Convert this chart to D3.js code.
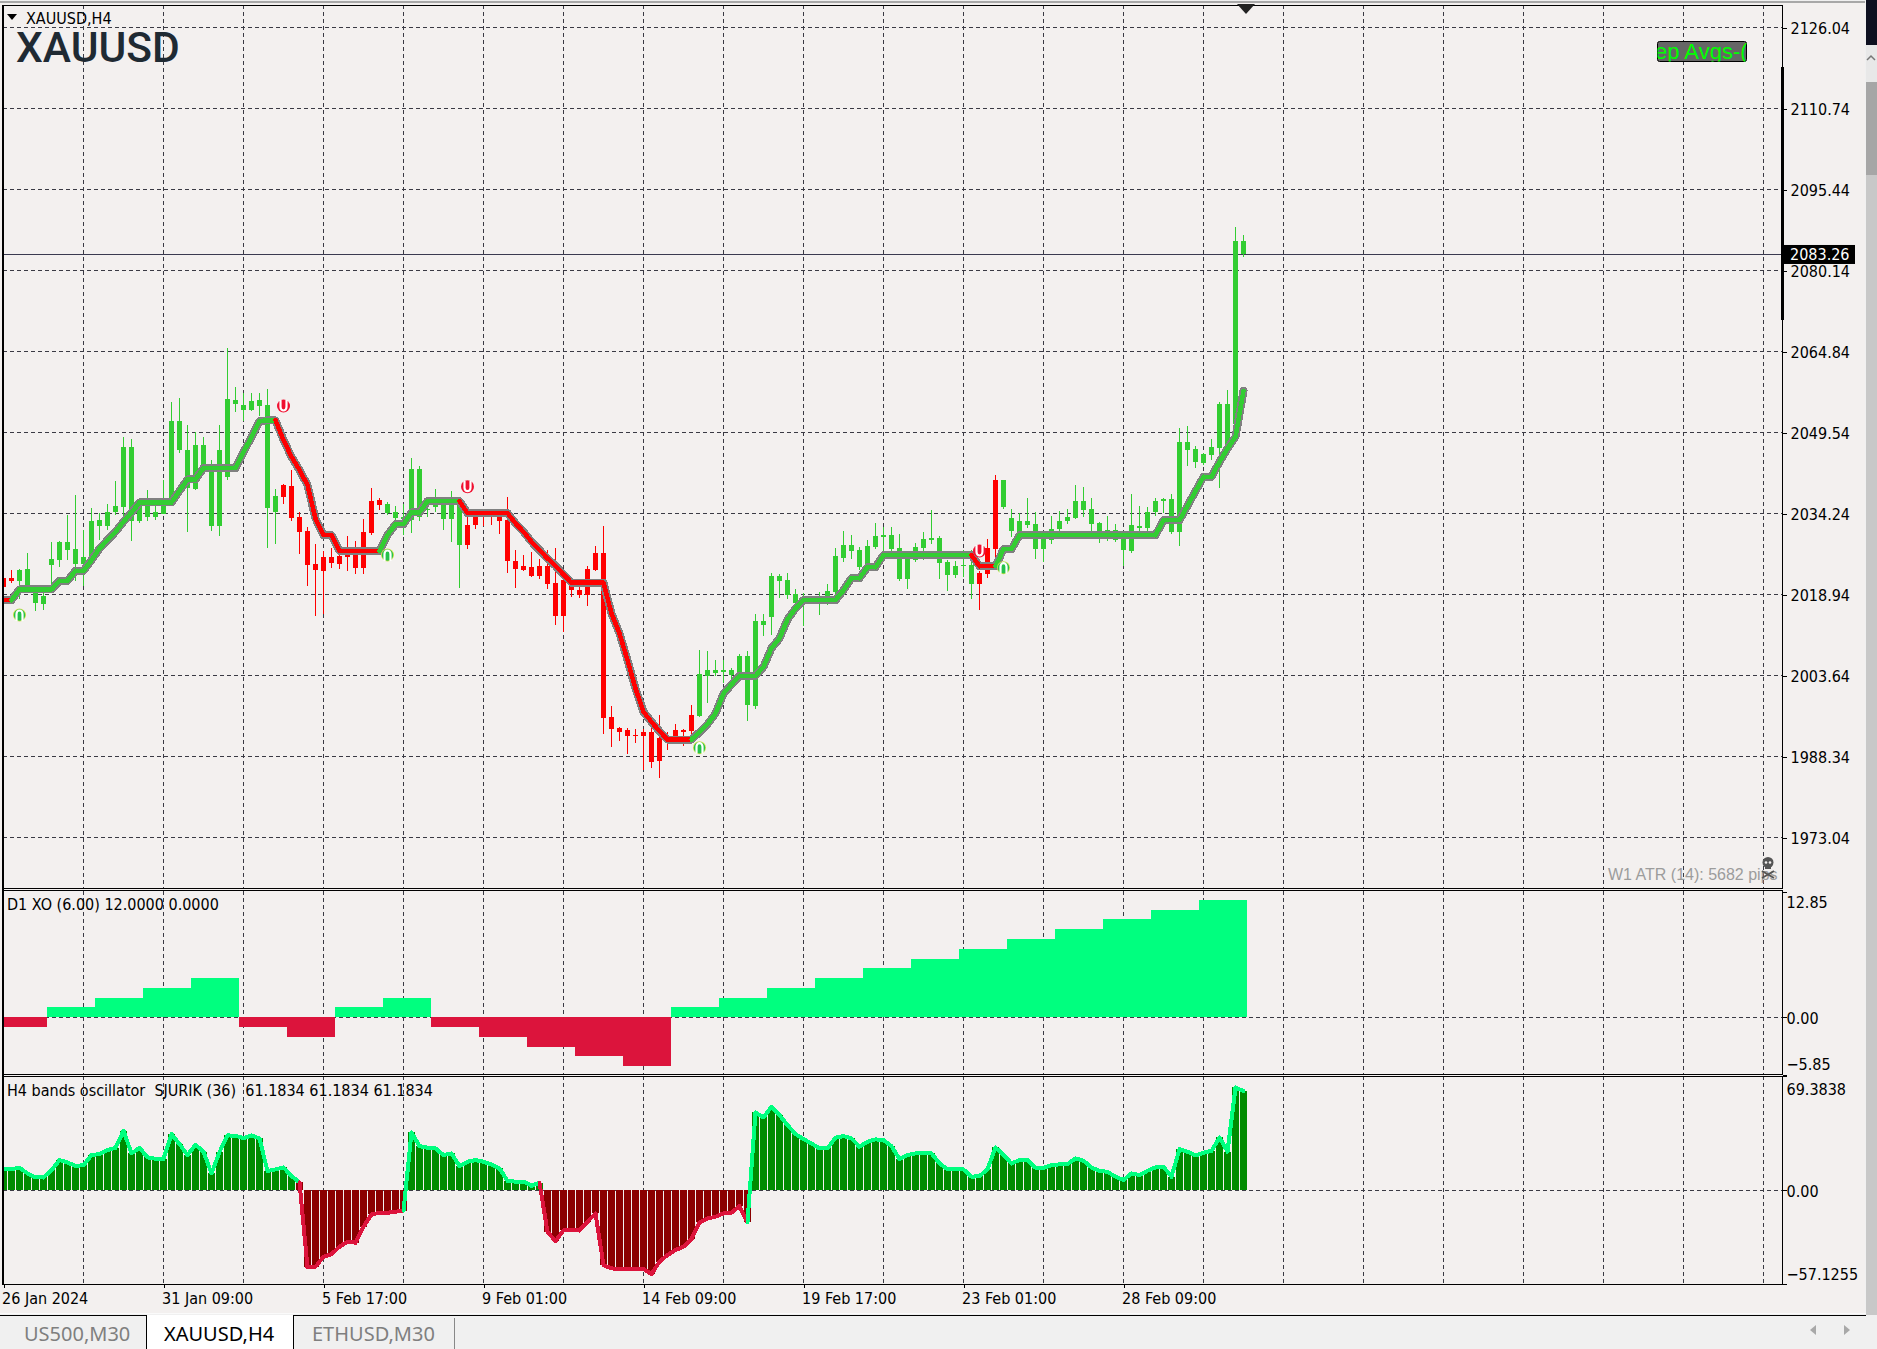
<!DOCTYPE html>
<html><head><meta charset="utf-8">
<script src="https://cdn.jsdelivr.net/npm/d3@7/dist/d3.min.js"></script>
<style>
html,body{margin:0;padding:0;background:#f0f0f0;overflow:hidden}
svg{display:block}
text{font-family:"DejaVu Sans Condensed","DejaVu Sans",sans-serif;font-size:16px;fill:#000}
.tab{font-family:"Noto Sans",sans-serif;font-size:20px}
</style></head><body>
<svg id="chart" width="1877" height="1349"></svg>
<script>
const symbol = "XAUUSD";
const panelTitle = "XAUUSD,H4";
const d1Title = "D1 XO (6.00) 12.0000 0.0000";
const oscTitle = "H4 bands oscillator  SJURIK (36)  61.1834 61.1834 61.1834";
const atrText = "W1 ATR (14): 5682 pips";
const buttonText = "ep Avgs-(";
const tabNames = ["US500,M30","XAUUSD,H4","ETHUSD,M30"];
const currentPrice = 2083.26;
const priceTicks = [2126.04,2110.74,2095.44,2080.14,2064.84,2049.54,2034.24,2018.94,2003.64,1988.34,1973.04];
const d1Ticks = [12.85,0,-5.85];
const oscTicks = [69.3838,0,-57.1255];
const dateLabels = ["26 Jan 2024","31 Jan 09:00","5 Feb 17:00","9 Feb 01:00","14 Feb 09:00","19 Feb 17:00","23 Feb 01:00","28 Feb 09:00"];

const highs = [2024.30,2023.54,2023.85,2026.69,2019.89,2019.13,2028.77,2029.02,2033.93,2037.65,
2031.10,2035.19,2034.25,2036.01,2040.36,2048.61,2048.24,2037.02,2038.66,2035.64,
2040.55,2055.29,2056.05,2050.88,2049.62,2048.61,2044.33,2050.88,2065.50,2058.06,
2056.93,2056.93,2056.93,2057.75,2038.85,2039.79,2042.44,2034.50,2031.67,2028.45,
2027.13,2027.70,2027.00,2029.97,2029.02,2033.18,2039.04,2037.15,2036.39,2035.64,
2036.01,2044.71,2043.20,2036.46,2038.86,2036.78,2038.54,2036.78,2035.39,2034.89,
2034.89,2034.89,2035.02,2037.35,2027.33,2026.38,2026.95,2025.63,2027.33,2027.71,
2022.60,2021.66,2020.53,2024.31,2028.09,2031.87,1997.85,1993.88,1993.69,1993.50,
1993.50,1993.69,1996.14,1992.93,1994.44,1993.62,1998.03,2008.43,2008.24,2006.54,
2006.54,2005.03,2007.67,2008.24,2015.23,2015.23,2022.98,2022.79,2022.98,2019.96,
2019.14,2018.51,2019.39,2020.90,2027.71,2030.90,2030.14,2027.88,2029.20,2032.41,
2031.66,2031.66,2030.33,2027.12,2028.63,2030.71,2034.87,2029.96,2025.42,2025.23,
2027.31,2027.31,2023.34,2029.39,2041.48,2040.54,2035.06,2034.30,2037.14,2034.49,
2030.14,2033.74,2034.68,2035.06,2039.59,2039.22,2037.14,2032.60,2033.74,2032.22,
2030.14,2037.89,2035.63,2035.44,2037.14,2037.14,2037.89,2050.37,2050.75,2046.97,
2045.58,2048.29,2055.28,2057.55,2088.36,2086.84];

const bodyTops = [2022.09,2022.09,2023.54,2023.73,2019.26,2018.63,2025.56,2028.77,2028.77,2027.45,
2025.93,2032.80,2032.99,2034.50,2035.64,2046.79,2046.79,2036.90,2036.90,2034.50,
2036.90,2051.70,2051.70,2046.22,2047.16,2047.16,2043.57,2046.22,2055.86,2055.67,
2054.72,2055.48,2055.67,2054.72,2037.53,2039.60,2039.42,2033.56,2030.91,2024.67,
2026.00,2026.00,2026.19,2026.57,2027.32,2030.72,2036.58,2036.77,2036.01,2034.50,
2033.49,2042.63,2042.63,2035.14,2035.96,2035.96,2035.96,2035.96,2032.05,2033.76,
2034.26,2034.26,2033.76,2033.00,2025.25,2024.31,2024.12,2024.31,2024.31,2021.09,
2021.66,2020.53,2019.77,2023.74,2026.76,2026.76,1995.77,1993.69,1993.31,1992.36,
1992.93,1992.93,1991.80,1992.18,1993.31,1993.31,1996.14,2003.90,2004.65,2004.65,
2004.65,2004.65,2007.30,2007.30,2013.91,2013.91,2022.42,2022.42,2021.66,2019.01,
2018.13,2018.13,2018.13,2019.58,2026.20,2028.25,2028.25,2027.31,2028.07,2029.96,
2030.14,2030.14,2027.69,2026.36,2027.88,2029.39,2029.58,2029.58,2025.04,2024.29,
2024.48,2024.48,2022.96,2027.69,2040.54,2040.54,2033.36,2032.79,2032.79,2032.22,
2029.39,2031.28,2032.79,2033.55,2036.57,2036.57,2035.06,2032.41,2031.09,2031.09,
2029.39,2032.03,2031.85,2034.49,2036.57,2036.95,2036.95,2047.72,2047.72,2046.40,
2045.45,2046.78,2054.90,2054.90,2085.71,2085.71];

const bodyBottoms = [2020.39,2021.46,2021.46,2020.07,2017.37,2017.11,2024.42,2025.43,2027.32,2024.67,
2024.61,2025.74,2031.86,2031.86,2034.50,2035.45,2032.80,2032.80,2033.56,2033.56,
2034.12,2036.90,2046.22,2039.04,2038.85,2043.38,2031.86,2031.86,2041.12,2054.91,
2053.78,2053.78,2054.54,2035.26,2034.50,2037.34,2033.37,2030.72,2024.48,2023.54,
2023.35,2024.86,2024.67,2026.00,2023.92,2023.92,2030.53,2035.82,2034.25,2033.37,
2033.18,2032.99,2033.62,2034.89,2035.52,2033.19,2033.19,2028.27,2028.27,2032.05,
2034.01,2034.01,2032.81,2025.25,2023.74,2023.55,2022.42,2022.42,2020.90,2014.86,
2014.86,2019.77,2018.82,2018.82,2023.55,1995.64,1993.50,1992.93,1992.18,1992.18,
1992.18,1987.26,1987.45,1991.92,1992.18,1992.93,1993.12,1995.96,2003.52,2004.02,
2004.33,2003.64,2003.52,1998.03,1997.85,2013.15,2014.67,2021.47,2018.82,2017.31,
2017.88,2017.88,2017.88,2018.45,2019.39,2025.92,2027.12,2024.10,2024.16,2027.88,
2029.77,2027.50,2021.83,2021.83,2025.42,2027.69,2029.20,2024.85,2022.58,2022.58,
2024.29,2020.88,2020.88,2022.77,2027.50,2035.44,2030.90,2030.71,2032.03,2027.50,
2027.50,2029.20,2031.28,2032.79,2033.36,2034.87,2032.22,2030.14,2030.14,2029.20,
2027.31,2027.12,2031.53,2031.47,2034.49,2036.57,2030.71,2030.71,2046.21,2043.94,
2043.75,2045.26,2046.59,2046.84,2051.12,2083.26];

const lows = [2019.13,2021.02,2018.18,2019.13,2015.79,2015.98,2019.89,2024.17,2025.43,2021.52,
2020.52,2024.80,2029.21,2031.10,2033.93,2031.41,2029.02,2032.36,2032.80,2032.99,
2034.12,2036.45,2045.72,2030.72,2038.66,2043.07,2030.97,2029.97,2040.55,2053.40,
2051.70,2053.65,2052.65,2027.70,2028.45,2036.01,2032.80,2026.57,2020.52,2014.85,
2015.22,2023.92,2023.67,2023.35,2022.78,2022.78,2030.15,2034.88,2033.93,2032.99,
2030.15,2030.53,2032.90,2033.63,2034.57,2031.11,2028.90,2020.15,2027.52,2031.30,
2031.87,2032.05,2030.35,2022.98,2020.15,2023.36,2022.23,2021.85,2019.96,2013.15,
2011.83,2018.45,2018.26,2016.75,2023.36,1992.55,1990.10,1991.23,1988.77,1990.85,
1985.75,1986.13,1984.24,1989.53,1991.73,1990.29,1991.42,1995.77,1998.41,2003.52,
2002.13,2002.44,2003.39,1995.01,1997.28,2011.08,2011.26,2018.26,2018.07,2016.30,
2013.03,2017.75,2015.04,2016.93,2018.82,2025.17,2025.61,2023.53,2023.84,2027.62,
2026.68,2026.68,2021.45,2019.94,2025.04,2025.42,2028.44,2021.83,2019.56,2022.02,
2022.27,2018.05,2015.97,2022.02,2025.42,2035.06,2029.77,2030.33,2031.47,2025.61,
2025.04,2028.44,2030.71,2032.22,2033.17,2033.55,2030.14,2028.63,2029.01,2028.82,
2024.29,2026.74,2030.14,2030.14,2033.74,2034.24,2030.33,2028.07,2043.19,2042.81,
2043.37,2044.32,2039.03,2046.21,2049.36,2082.69];

const trendLine = [2017.87,2017.87,2019.89,2019.89,2019.89,2019.89,2019.89,2021.52,2021.52,2023.41,
2023.41,2025.43,2027.63,2029.21,2030.78,2032.67,2034.44,2036.33,2036.33,2036.33,
2036.33,2036.33,2038.53,2040.68,2040.68,2042.82,2042.82,2042.82,2042.82,2042.82,
2045.78,2048.74,2051.70,2051.83,2051.83,2048.11,2044.96,2042.44,2039.60,2033.30,
2030.15,2030.15,2027.19,2027.19,2027.19,2027.19,2027.19,2027.19,2030.15,2032.23,
2032.23,2034.44,2034.44,2036.59,2036.59,2036.59,2036.59,2036.59,2034.32,2034.32,
2034.32,2034.32,2034.32,2034.32,2032.37,2030.79,2028.90,2027.33,2025.75,2024.37,
2022.73,2021.16,2021.16,2021.16,2021.16,2021.16,2015.36,2011.58,2006.54,2001.18,
1996.77,1994.88,1993.12,1991.55,1991.55,1991.55,1991.55,1992.93,1994.44,1996.46,
2000.24,2001.94,2003.58,2003.58,2003.58,2005.28,2008.81,2010.63,2014.23,2016.30,
2017.88,2017.88,2017.88,2017.88,2017.88,2019.75,2022.02,2022.02,2024.10,2024.10,
2026.36,2026.36,2026.36,2026.36,2026.36,2026.36,2026.36,2026.36,2026.36,2026.36,
2026.36,2026.36,2024.29,2024.29,2024.29,2027.50,2027.50,2030.14,2030.14,2030.14,
2030.14,2030.14,2030.14,2030.14,2030.14,2030.14,2030.14,2030.14,2030.14,2030.14,
2030.14,2030.14,2030.14,2030.14,2030.14,2032.98,2032.98,2032.98,2035.69,2038.46,
2041.17,2041.17,2044.00,2046.52,2048.73,2057.42];

const redRuns = [[0,1],[35,47],[58,86],[122,124]];

const signalBars = [2,35,48,58,87,122,125];
const signalPrices = [2015.07,2054.55,2026.40,2039.30,1990.00,2027.16,2024.00];
const signalKinds = ["up","down","up","down","up","down","up"];

const d1Values = [-1,1,2,3,4,-1,-2,1,2,-1,-2,-3,-4,-5,1,2,3,4,5,6,7,8,9,10,11,12];
const barsPerDay = 6;

const oscValues = [12.77,12.77,13.58,10.14,7.70,7.70,12.16,18.24,16.83,14.60,
15.20,21.29,21.90,24.33,25.75,36.09,22.30,25.75,19.87,19.06,
19.06,34.06,27.98,21.29,27.57,23.32,10.14,23.11,33.25,33.05,
31.63,33.25,31.43,11.56,12.57,13.79,8.52,4.66,-47.04,-46.63,
-40.55,-38.93,-34.47,-31.42,-32.03,-22.30,-14.80,-13.79,-13.79,-13.18,
-12.57,35.07,26.76,25.75,25.34,21.29,22.30,14.60,17.23,18.25,
17.23,15.61,13.18,5.68,5.07,5.07,2.64,4.46,-25.34,-31.02,
-24.53,-24.53,-24.53,-19.26,-14.19,-45.62,-47.64,-48.05,-48.05,-48.05,
-48.05,-51.09,-43.59,-39.53,-36.49,-34.47,-29.80,-19.67,-17.23,-16.22,
-14.19,-13.79,-9.73,-19.46,47.24,44.20,50.68,45.62,39.53,34.06,
31.02,28.38,25.34,25.34,31.83,32.84,31.42,26.35,29.40,30.82,
30.41,26.76,18.85,21.29,22.30,22.30,22.30,16.22,12.57,12.57,
12.57,8.11,8.51,12.57,25.95,21.29,16.22,18.25,18.25,13.58,
13.58,15.20,15.61,15.81,19.26,17.84,13.79,11.56,11.15,8.11,
6.08,10.14,9.12,11.76,13.79,14.19,8.11,24.94,23.32,21.08,
22.71,23.92,32.03,23.32,62.44,60.20];
const oscFlippedBars = [37];

[highs,bodyTops,bodyBottoms,lows,trendLine,oscValues].forEach(a=>{ if(a.length!==156) throw new Error("length "+a.length); });

const W=1877,H=1349, paneR=1782.5;
const barStep=8, firstX=3.5, barCount=highs.length;
const x = d3.scaleLinear().domain([0,barCount-1]).range([firstX,firstX+barStep*(barCount-1)]);
const yMain = d3.scaleLinear().domain([2126.04,1973.04]).range([27.5,837.5]);
const yD1 = d3.scaleLinear().domain([12.85,-5.85]).range([891.5,1074.5]);
const yOsc = d3.scaleLinear().domain([69.3838,-57.1255]).range([1076,1284]);
const panes = [[5,888.5],[890.5,1074],[1076,1284]];
const isRed = i => redRuns.some(r=>i>=r[0]&&i<=r[1]);
const GREEN="#32cd32", RED="#ff0000";

const svg = d3.select("#chart");
const defs = svg.append("defs");
panes.forEach((p,k)=>defs.append("clipPath").attr("id","pane"+k).append("rect").attr("x",3).attr("y",p[0]).attr("width",paneR-3).attr("height",p[1]-p[0]));
defs.append("clipPath").attr("id","btn").append("rect").attr("x",1657.5).attr("y",41.5).attr("width",89).attr("height",20);

// window background
svg.append("rect").attr("width",W).attr("height",H).attr("fill","#f0f0f0");
svg.append("rect").attr("x",0).attr("y",3).attr("width",1865).attr("height",1310).attr("fill","#f3f0ef");
svg.append("rect").attr("x",0).attr("y",1).attr("width",1865).attr("height",2).attr("fill","#a8a8a8");
// scrollbar column
svg.append("rect").attr("x",1866).attr("y",0).attr("width",11).attr("height",H).attr("fill","#c8c8c8");
svg.append("rect").attr("x",1866).attr("y",0).attr("width",11).attr("height",45).attr("fill","#0e1020");
svg.append("rect").attr("x",1866).attr("y",45).attr("width",11).attr("height",37).attr("fill","#e8e8e8");
svg.append("rect").attr("x",1866).attr("y",82).attr("width",11).attr("height",93).attr("fill","#a6a6a6");
svg.append("path").attr("d","M1867 60 L1871 56 L1875 60").attr("fill","none").attr("stroke","#777").attr("stroke-width",1.5);

// grid
const gridG = svg.append("g").attr("stroke","#3a3a44").attr("stroke-width",1).attr("stroke-dasharray","4,3").attr("shape-rendering","crispEdges");
const gridXs = d3.range(10,231,10).map(i=>x(i)).filter(v=>v<paneR-2);
panes.forEach(p=>{
  gridG.append("g").selectAll("line").data(gridXs).join("line")
    .attr("x1",d=>d).attr("x2",d=>d).attr("y1",p[0]).attr("y2",p[1]);
});
gridG.append("g").selectAll("line").data(priceTicks).join("line")
  .attr("x1",3).attr("x2",paneR).attr("y1",d=>yMain(d)).attr("y2",d=>yMain(d));
gridG.append("line").attr("x1",3).attr("x2",paneR).attr("y1",yD1(0)).attr("y2",yD1(0));
gridG.append("line").attr("x1",3).attr("x2",paneR).attr("y1",yOsc(0)).attr("y2",yOsc(0));

// current price line
svg.append("line").attr("x1",3).attr("x2",paneR).attr("y1",Math.round(yMain(currentPrice))+.5).attr("y2",Math.round(yMain(currentPrice))+.5)
  .attr("stroke","#3a3a50").attr("stroke-width",1).attr("shape-rendering","crispEdges");

// candles
const main = svg.append("g").attr("clip-path","url(#pane0)");
const idx = d3.range(barCount);
main.append("g").selectAll("rect").data(idx).join("rect")
  .attr("x",i=>x(i)-.5).attr("width",1)
  .attr("y",i=>Math.round(yMain(highs[i]))).attr("height",i=>Math.round(yMain(lows[i]))-Math.round(yMain(highs[i])))
  .attr("fill",i=>isRed(i)?RED:GREEN).attr("shape-rendering","crispEdges");
main.append("g").selectAll("rect").data(idx).join("rect")
  .attr("x",i=>x(i)-2.5).attr("width",5)
  .attr("y",i=>Math.round(yMain(bodyTops[i]))).attr("height",i=>Math.max(1,Math.round(yMain(bodyBottoms[i]))-Math.round(yMain(bodyTops[i]))))
  .attr("fill",i=>isRed(i)?RED:GREEN).attr("shape-rendering","crispEdges");

// trend line
const mainLine = d3.line().x(i=>x(i)).y(i=>yMain(trendLine[i]));
main.append("path").attr("d",mainLine(idx)).attr("fill","none").attr("stroke","#808080").attr("stroke-width",8)
  .attr("stroke-linejoin","round").attr("stroke-linecap","round").attr("shape-rendering","crispEdges");
main.append("g").selectAll("path").data(idx.slice(0,-1)).join("path")
  .attr("d",i=>mainLine([i,i+1])).attr("fill","none").attr("stroke-width",4.5).attr("stroke-linecap","round")
  .attr("shape-rendering","crispEdges").attr("stroke",i=>isRed(i+1)?RED:GREEN);

// signal markers
signalBars.forEach((b,k)=>{
  const g = main.append("g").attr("transform",`translate(${x(b)},${yMain(signalPrices[k])})`);
  const up = signalKinds[k]==="up", c = up?"#25c24a":"#f01030";
  if(up) g.append("circle").attr("r",6.5).attr("fill","#cfe04a");
  g.append("circle").attr("r",up?5.7:6.5).attr("fill",c);
  g.append("path").attr("d",up?"M-3 6 V-1 A3 3.5 0 0 1 3 -1 V6":"M-3 -6 V1 A3 3.5 0 0 0 3 1 V-6")
    .attr("fill","none").attr("stroke","#fff").attr("stroke-width",2.2);
});

// D1 histogram
const sub1 = svg.append("g").attr("clip-path","url(#pane1)");
sub1.selectAll("rect").data(d1Values).join("rect")
  .attr("x",(d,k)=>x(k*barsPerDay)-4.5).attr("width",barStep*barsPerDay)
  .attr("y",d=>d>0?Math.round(yD1(d)):Math.round(yD1(0)))
  .attr("height",d=>Math.abs(Math.round(yD1(d))-Math.round(yD1(0))))
  .attr("fill",d=>d>0?"#00ff7f":"#dc143c").attr("shape-rendering","crispEdges");

// oscillator histogram
const sub2 = svg.append("g").attr("clip-path","url(#pane2)");
sub2.append("g").selectAll("rect").data(oscValues).join("rect")
  .attr("x",(d,i)=>x(i)-3.5).attr("width",7)
  .attr("y",d=>d>0?yOsc(d):yOsc(0)).attr("height",d=>Math.abs(yOsc(d)-yOsc(0)))
  .attr("fill",(d,i)=>(d>0)!==oscFlippedBars.includes(i)?"#008b00":"#8b0000").attr("shape-rendering","crispEdges");
const oscLine = d3.line().x(i=>x(i)).y(i=>yOsc(oscValues[i]));
sub2.append("g").selectAll("path").data(idx.slice(0,-1)).join("path")
  .attr("d",i=>oscLine([i,i+1])).attr("fill","none").attr("stroke-width",4).attr("stroke-linecap","round")
  .attr("shape-rendering","crispEdges").attr("stroke",i=>oscValues[i+1]>0?"#00ff7f":"#dc143c");

// pane frames
const frame = svg.append("g").attr("fill","none").attr("stroke","#000").attr("shape-rendering","crispEdges");
panes.forEach(p=>frame.append("rect").attr("x",2.5).attr("y",p[0]).attr("width",paneR-2.5).attr("height",p[1]-p[0]));
svg.append("rect").attr("x",2).attr("y",5).attr("width",2).attr("height",1279).attr("fill","#000");

// axes
function axisStyle(g){ g.attr("font-family",null).attr("font-size",null); g.select(".domain").remove(); g.selectAll("line").attr("stroke","#000").attr("shape-rendering","crispEdges"); g.selectAll("text").attr("fill","#000"); }
svg.append("g").attr("transform",`translate(${paneR},0)`)
  .call(d3.axisRight(yMain).tickValues(priceTicks).tickSize(4).tickPadding(4).tickFormat(d3.format(".2f")))
  .call(axisStyle).call(g=>g.selectAll("text").attr("y",1));
svg.append("g").attr("transform",`translate(${paneR},0)`)
  .call(d3.axisRight(yD1).tickValues(d1Ticks).tickSize(4).tickPadding(0).tickFormat(d3.format(".2f")))
  .call(axisStyle)
  .call(g=>g.selectAll("text").attr("y",d=>d===12.85?11:d===-5.85?-10:1.5));
svg.append("g").attr("transform",`translate(${paneR},0)`)
  .call(d3.axisRight(yOsc).tickValues(oscTicks).tickSize(4).tickPadding(0).tickFormat(d=>d===0?"0.00":d3.format(".4f")(d)))
  .call(axisStyle)
  .call(g=>g.selectAll("text").attr("y",d=>d===69.3838?13:d===-57.1255?-10:1));

// thick vertical marker on the price axis
svg.append("rect").attr("x",1781).attr("y",67).attr("width",3).attr("height",253).attr("fill","#000");

// current price flag
const flagY = yMain(currentPrice);
svg.append("rect").attr("x",1783).attr("y",flagY-9).attr("width",72).attr("height",19).attr("fill","#000");
svg.append("text").attr("x",1790).attr("y",flagY+1).attr("dy","0.32em").style("fill","#fff").text(d3.format(".2f")(currentPrice));

// date axis
const dateX = d3.scalePoint().domain(dateLabels).range([x(0),x(140)]);
const dateAxis = svg.append("g").attr("transform","translate(0,1284)")
  .call(d3.axisBottom(dateX).tickSize(4).tickPadding(4)).call(axisStyle);
dateAxis.selectAll("text").attr("text-anchor","start").attr("x",-2).attr("y",9).attr("dy","0.71em");

// labels
svg.append("path").attr("d","M7 14 H17 L12 20 Z").attr("fill","#000");
svg.append("text").attr("x",26).attr("y",18).attr("dy","0.36em").text(panelTitle);
svg.append("text").attr("x",16).attr("y",62).style("font-family","Roboto,sans-serif").style("font-weight",500).style("font-size","42.5px").style("fill","#1f2a33").text(symbol);
svg.append("path").attr("d","M1237 4 H1255 L1246 14 Z").attr("fill","#222");
svg.append("text").attr("x",7).attr("y",904).attr("dy","0.36em").text(d1Title);
svg.append("text").attr("x",7).attr("y",1090).attr("dy","0.36em").attr("xml:space","preserve").style("white-space","pre").text(oscTitle);

// button
svg.append("rect").attr("x",1657.5).attr("y",41.5).attr("width",89).attr("height",20).attr("rx",2).attr("fill","#666").attr("stroke","#000");
svg.append("text").attr("clip-path","url(#btn)").attr("x",1655).attr("y",59).style("font-family","'Liberation Sans',Arial,sans-serif").style("font-size","22px").style("fill","#00ff00").text(buttonText);

// ATR and skull mark
svg.append("text").attr("x",1608).attr("y",880).style("font-family","'Liberation Sans',Arial,sans-serif").style("font-size","16px").style("fill","#9c9c9c").text(atrText);
const skull = svg.append("g").attr("transform","translate(1768,864)").attr("fill","#555");
skull.append("circle").attr("cy",-1.5).attr("r",5.5);
skull.append("rect").attr("x",-3).attr("y",2).attr("width",6).attr("height",3);
skull.append("circle").attr("cx",-2).attr("cy",-1.5).attr("r",1.3).attr("fill","#f3f0ef");
skull.append("circle").attr("cx",2).attr("cy",-1.5).attr("r",1.3).attr("fill","#f3f0ef");
skull.append("path").attr("d","M-6 7 L6 14 M6 7 L-6 14").attr("stroke","#555").attr("stroke-width",2).attr("fill","none");

// tabs
svg.append("rect").attr("x",0).attr("y",1315).attr("width",W).attr("height",34).attr("fill","#f0f0f0");
svg.append("rect").attr("x",0).attr("y",1313).attr("width",1866).attr("height",1).attr("fill","#fafafa");
svg.append("rect").attr("x",147).attr("y",1315).attr("width",146).attr("height",34).attr("fill","#fff");
svg.append("line").attr("x1",0).attr("x2",146).attr("y1",1315.5).attr("y2",1315.5).attr("stroke","#000");
svg.append("line").attr("x1",293).attr("x2",1866).attr("y1",1315.5).attr("y2",1315.5).attr("stroke","#000");
svg.append("line").attr("x1",146.5).attr("x2",146.5).attr("y1",1315).attr("y2",1349).attr("stroke","#000");
svg.append("line").attr("x1",293.5).attr("x2",293.5).attr("y1",1315).attr("y2",1349).attr("stroke","#000");
svg.append("line").attr("x1",454.5).attr("x2",454.5).attr("y1",1318).attr("y2",1349).attr("stroke","#888");
const tabX=[24,164,312];
svg.append("g").selectAll("text").data(tabNames).join("text").attr("class","tab")
  .attr("x",(d,i)=>tabX[i]).attr("y",1334).attr("dy","0.36em")
  .style("fill",(d,i)=>i===1?"#000":"#7f7f7f").text(d=>d);
svg.append("path").attr("d","M1816 1325 L1810 1330 L1816 1335 Z").attr("fill","#a8a8a8");
svg.append("path").attr("d","M1844 1325 L1850 1330 L1844 1335 Z").attr("fill","#a8a8a8");
</script>
</body></html>
